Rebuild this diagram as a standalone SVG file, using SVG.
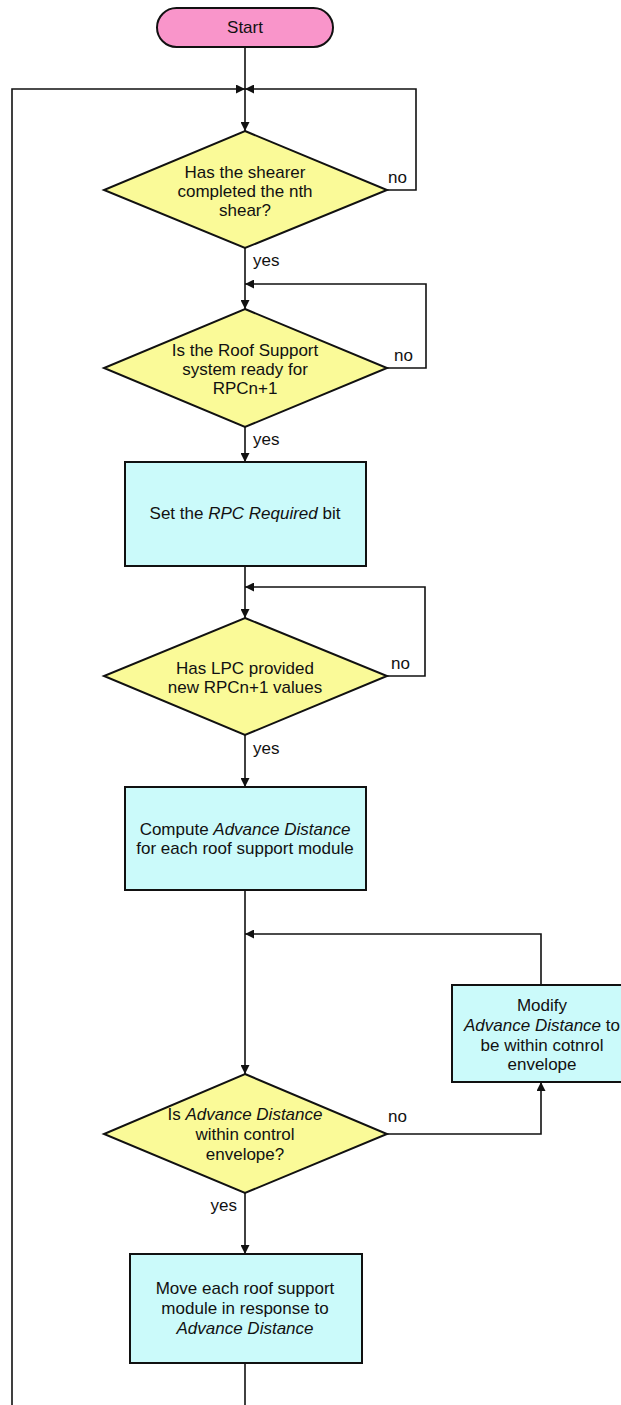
<svg xmlns="http://www.w3.org/2000/svg" width="621" height="1405" viewBox="0 0 621 1405">
<style>
text{font-family:"Liberation Sans",Arial,sans-serif;font-size:17px;fill:#111}
.c{text-anchor:middle}
.i{font-style:italic}
.pill{fill:#F995CA;stroke:#111;stroke-width:2}
.dia{fill:#FAFA98;stroke:#111;stroke-width:2}
.box{fill:#CBFAFA;stroke:#111;stroke-width:2}
.ln{fill:none;stroke:#111;stroke-width:1.6}
.arr{fill:none;stroke:#111;stroke-width:1.6;marker-end:url(#ah)}
</style>
<defs>
<marker id="ah" viewBox="0 0 10 10" refX="10" refY="5" markerWidth="10" markerHeight="9" markerUnits="userSpaceOnUse" orient="auto">
<path d="M0,0 L10,5 L0,10 Z" fill="#111"/>
</marker>
</defs>
<rect width="621" height="1405" fill="#fff"/>
<g id="connectors">
<path class="arr" d="M245,47 V131"/>
<path class="arr" d="M12,1405 V89 H245"/>
<path class="arr" d="M387,190 H416 V89 H245"/>
<path class="arr" d="M245,248 V309"/>
<path class="arr" d="M387,368 H426 V284 H245"/>
<path class="arr" d="M245,427 V462"/>
<path class="arr" d="M245,566 V618"/>
<path class="arr" d="M387,676 H425 V587 H245"/>
<path class="arr" d="M245,735 V787"/>
<path class="arr" d="M245,890 V1074"/>
<path class="arr" d="M541,985 V934 H245"/>
<path class="arr" d="M387,1134 H541 V1082"/>
<path class="arr" d="M245,1193 V1254"/>
<path class="ln" d="M245,1363 V1405"/>
<text x="388" y="183">no</text>
<text x="253" y="266">yes</text>
<text x="394" y="361">no</text>
<text x="253" y="445">yes</text>
<text x="391" y="669">no</text>
<text x="253" y="754">yes</text>
<text x="388" y="1122">no</text>
<text x="237" y="1211" text-anchor="end">yes</text>
</g>
<g id="start">
<rect class="pill" x="157" y="8" width="176" height="39" rx="19.5"/>
<text class="c" x="245" y="33">Start</text>
</g>
<g id="d1">
<polygon class="dia" points="245,131 387,190 245,248 104,190"/>
<text class="c" x="245" y="178">Has the shearer</text>
<text class="c" x="245" y="197">completed the nth</text>
<text class="c" x="245" y="216">shear?</text>
</g>
<g id="d2">
<polygon class="dia" points="245,309 387,368 245,427 104,368"/>
<text class="c" x="245" y="356">Is the Roof Support</text>
<text class="c" x="245" y="375">system ready for</text>
<text class="c" x="245" y="394">RPCn+1</text>
</g>
<g id="b1">
<rect class="box" x="125" y="462" width="241" height="104"/>
<text class="c" x="245" y="519">Set the <tspan class="i">RPC Required</tspan> bit</text>
</g>
<g id="d3">
<polygon class="dia" points="245,618 387,676 245,735 104,676"/>
<text class="c" x="245" y="674">Has LPC provided</text>
<text class="c" x="245" y="693">new RPCn+1 values</text>
</g>
<g id="b2">
<rect class="box" x="125" y="787" width="241" height="103"/>
<text class="c" x="245" y="835">Compute <tspan class="i">Advance Distance</tspan></text>
<text class="c" x="245" y="854">for each roof support module</text>
</g>
<g id="b4">
<rect class="box" x="452" y="985" width="180" height="97"/>
<text class="c" x="542" y="1011">Modify</text>
<text class="c" x="542" y="1031"><tspan class="i">Advance Distance</tspan> to</text>
<text class="c" x="542" y="1051">be within cotnrol</text>
<text class="c" x="542" y="1070">envelope</text>
</g>
<g id="d4">
<polygon class="dia" points="245,1074 387,1134 245,1193 104,1134"/>
<text class="c" x="245" y="1120">Is <tspan class="i">Advance Distance</tspan></text>
<text class="c" x="245" y="1140">within control</text>
<text class="c" x="245" y="1160">envelope?</text>
</g>
<g id="b3">
<rect class="box" x="130" y="1254" width="232" height="109"/>
<text class="c" x="245" y="1294">Move each roof support</text>
<text class="c" x="245" y="1314">module in response to</text>
<text class="c" x="245" y="1334" font-style="italic">Advance Distance</text>
</g>
</svg>
